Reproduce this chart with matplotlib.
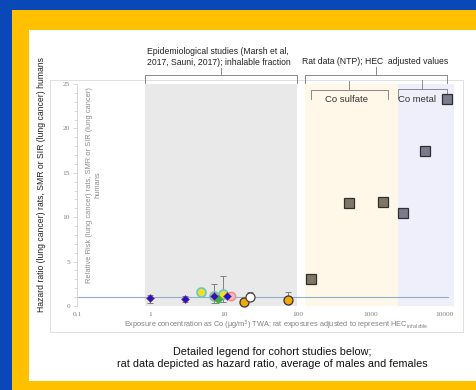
import numpy as np
import matplotlib.pyplot as plt
from matplotlib.patches import Rectangle
from matplotlib.lines import Line2D
import matplotlib.transforms as mtransforms

# -------------------------------------------
# data

# cohort studies, humans (SMR / SIR)
diam_x = [1.0, 2.95, 7.3, 11.0]
diam_y = [0.85, 0.8, 1.1, 1.1]
green_x = [8.3]
green_y = [0.8]
yel_x = [4.9, 7.3, 9.7]
yel_y = [1.6, 1.1, 1.35]
pink_x = [12.4]
pink_y = [1.1]
orange_x = [18.7, 74.6]
orange_y = [0.45, 0.7]
white_x = [22.6]
white_y = [1.0]

err_x = [1.0, 2.95, 7.3, 9.7, 22.6, 74.6]
err_y = [0.85, 0.8, 1.1, 1.35, 1.0, 0.7]
err_lo = [0.5, 0.3, 0.75, 0.9, 0.3, 0.3]
err_hi = [0.4, 0.3, 1.4, 2.05, 0.6, 0.9]

# rat data (NTP), HEC adjusted, hazard ratio
sulf_x = [152, 501, 1456]
sulf_y = [3.0, 11.6, 11.7]
metal_x = [2723, 5430, 10800]
metal_y = [10.5, 17.5, 23.3]

# shaded ranges
epi_span = (0.85, 98)
sulf_span = (125, 2300)
metal_span = (2300, 13500)

x_ticks = [0.1, 1, 10, 100, 1000, 10000]
x_ticklabels = ["0.1", "1", "10", "100", "1000", "10000"]

# -------------------------------------------

W, H = 477, 390
def fx(px): return px / W
def fy(py): return 1 - py / H

plt.rcParams['font.family'] = ['Liberation Sans', 'DejaVu Sans']

fig = plt.figure(figsize=(4.77, 3.90), dpi=100)
fig.patch.set_facecolor('#0a48b8')
fig.patches.append(Rectangle((fx(12), 0), 1, fy(10), transform=fig.transFigure,
                             facecolor='#ffc000', edgecolor='none', zorder=-3))
fig.patches.append(Rectangle((fx(29), fy(381)), 1, fy(30) - fy(381), transform=fig.transFigure,
                             facecolor='white', edgecolor='none', zorder=-2))
fig.patches.append(Rectangle((fx(50), fy(332)), (463 - 50) / W, (332 - 80) / H,
                             transform=fig.transFigure, fill=False,
                             edgecolor='#dadada', linewidth=0.6, zorder=-1))

ax = fig.add_axes([fx(77), fy(306), (454 - 77) / W, (306 - 84) / H])
ax.set_facecolor('none')
ax.set_xscale('log')
ax.set_xlim(0.1, 13500)
ax.set_ylim(0, 25)

ax.axvspan(*epi_span, color='#e9e9e9', zorder=0, lw=0)
ax.axvspan(*sulf_span, color='#fff8e8', zorder=0, lw=0)
ax.axvspan(*metal_span, color='#efeefb', zorder=0, lw=0)
ax.axhline(1, color='#93aecd', linewidth=0.8, xmax=0.985, zorder=1)

ax.errorbar(err_x, err_y, yerr=[err_lo, err_hi], fmt='none', ecolor='#7f7f7f',
            elinewidth=0.7, capsize=2, capthick=0.7, zorder=2)

ax.plot(yel_x, yel_y, 'o', ms=6.5, mfc='#ece21e', mec='#6fc4cf', mew=1.2, clip_on=False, zorder=3)
ax.plot(pink_x, pink_y, 'o', ms=6, mfc='#f6b9b9', mec='#e48c8c', mew=1, clip_on=False, zorder=3)
ax.plot(orange_x, orange_y, 'o', ms=6.5, mfc='#f2aa00', mec='#333333', mew=0.9, clip_on=False, zorder=3)
ax.plot(white_x, white_y, 'o', ms=6.5, mfc='white', mec='#444444', mew=0.9, clip_on=False, zorder=3)
ax.plot(green_x, green_y, 'D', ms=4, mfc='#3fae4a', mec='#3fae4a', clip_on=False, zorder=4)
ax.plot(diam_x, diam_y, 'D', ms=4, mfc='#1a1ac8', mec='#b03060', mew=0.4, clip_on=False, zorder=4)

ax.plot(sulf_x, sulf_y, 's', ms=7, mfc='#807667', mec='#2f2f2f', mew=0.9, clip_on=False, zorder=3)
ax.plot(metal_x, metal_y, 's', ms=7, mfc='#7b7b8e', mec='#2f2f2f', mew=0.9, clip_on=False, zorder=3)

# axes styling
for s in ['top', 'right', 'bottom']:
    ax.spines[s].set_visible(False)
ax.spines['left'].set_color('#d0d0d0')
ax.spines['left'].set_linewidth(0.6)
ax.set_yticks([0, 5, 10, 15, 20, 25])
ax.set_yticks(np.arange(0, 26, 1), minor=True)
ax.tick_params(axis='y', which='both', direction='out', colors='#c8c8c8',
               labelcolor='#808080', labelsize=5.3, length=2, width=0.5, pad=2)
ax.tick_params(axis='y', which='major', length=3)
for t in ax.get_yticklabels():
    t.set_family('Liberation Serif')
ax.set_xticks(x_ticks)
ax.set_xticklabels(x_ticklabels, family='Liberation Serif', fontsize=5.3, color='#808080')
ax.xaxis.set_minor_locator(plt.NullLocator())
ax.tick_params(axis='x', length=0, pad=4)

# braces above the shaded ranges
trans = mtransforms.blended_transform_factory(ax.transData, ax.transAxes)
def brace(x0, x1, y, drop, rise):
    xm = np.sqrt(x0 * x1)
    for xs, ys in [([x0, x0, x1, x1], [y - drop, y, y, y - drop]), ([xm, xm], [y, y + rise])]:
        ax.add_line(Line2D(xs, ys, transform=trans, color='#8a8a8a', lw=0.7, clip_on=False))

brace(0.85, 98, 1.04, 0.035, 0.03)
brace(125, 11000, 1.04, 0.035, 0.035)
brace(151, 1700, 0.973, 0.04, 0.04)
brace(2330, 10700, 0.977, 0.04, 0.04)

# texts
fig.text(fx(147), fy(57), "Epidemiological studies (Marsh et al,\n2017, Sauni, 2017); inhalable fraction",
         fontsize=6.2, color='#222222', ha='left', va='center', linespacing=1.4)
fig.text(fx(375), fy(61), "Rat data (NTP); HEC  adjusted values", fontsize=6.2,
         color='#222222', ha='center', va='center')
fig.text(fx(347), fy(99), "Co sulfate", fontsize=6.8, color='#333333', ha='center', va='center')
fig.text(fx(398), fy(99), "Co metal", fontsize=6.8, color='#333333', ha='left', va='center')

fig.text(fx(42), fy(185), "Hazard ratio (lung cancer) rats, SMR or SIR (lung cancer) humans",
         fontsize=6.2, color='#222222', rotation=90, ha='center', va='center')
fig.text(fx(94), fy(185), "Relative Risk (lung cancer) rats, SMR or SIR (lung cancer)\nhumans",
         fontsize=5.4, color='#8c8c8c', rotation=90, ha='center', va='center', linespacing=1.4)
fig.text(fx(276), fy(325),
         "Exposure concentration as Co (\u00b5g/m$^3$) TWA; rat exposures adjusted to represent HEC$_{\\mathregular{inhalable}}$",
         fontsize=5.3, color='#808080', ha='center', va='center')
fig.text(fx(272), fy(358),
         "Detailed legend for cohort studies below;\nrat data depicted as hazard ratio, average of males and females",
         fontsize=7.8, color='#111111', ha='center', va='center', linespacing=1.3)

plt.savefig('out.png', dpi=100)
